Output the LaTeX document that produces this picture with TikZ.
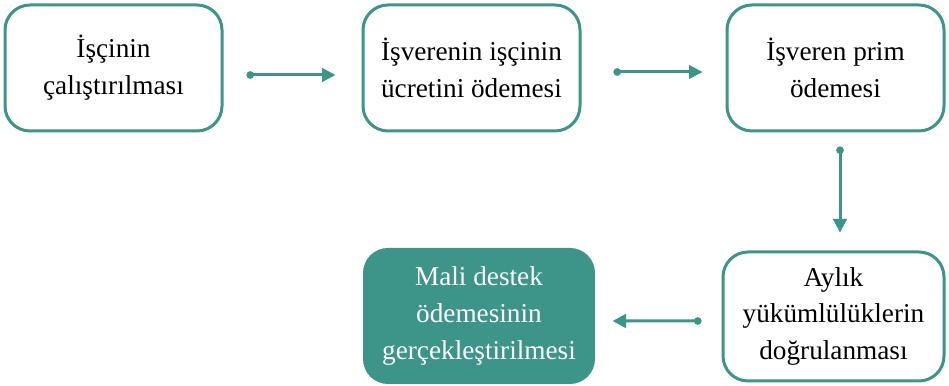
\documentclass[tikz,border=0pt]{standalone}
\usepackage{fontspec}
\setmainfont{Liberation Serif}
\usetikzlibrary{arrows.meta}
\definecolor{flowteal}{RGB}{61,148,137}

\begin{document}
\begin{tikzpicture}[
		stepbox/.style={draw=flowteal, line width=0.06cm, rounded corners=0.5cm, fill=white,
			minimum width=4.34cm, minimum height=2.52cm, inner sep=0pt, align=center,
			font=\fontsize{15.5}{21}\selectfont},
		endbox/.style={stepbox, draw=none, fill=flowteal, text=white},
		flow/.style={draw=flowteal, line width=0.06cm, {Circle[length=0.15cm,width=0.15cm]}-{Triangle[length=0.27cm,width=0.27cm]}}
	]
		%%%%% START %%%%%
		
		\useasboundingbox (0, 0) rectangle (18.98, 7.72);
		
		\node[stepbox] (calisma) at (2.27, 6.36) {İşçinin\\çalıştırılması};
		\node[stepbox] (ucret) at (9.43, 6.36) {İşverenin işçinin\\ücretini ödemesi};
		\node[stepbox] (prim) at (16.71, 6.36) {İşveren prim\\ödemesi};
		
		\node[stepbox, minimum width=4.42cm, minimum height=2.58cm] (dogrulama) at (16.67, 1.39) {Aylık\\yükümlülüklerin\\doğrulanması};
		\node[endbox, minimum width=4.64cm, minimum height=2.72cm] (destek) at (9.58, 1.40) {Mali destek\\ödemesinin\\gerçekleştirilmesi};
		
		\draw[flow, shorten <=0.46cm, shorten >=0.52cm] ([yshift=-0.14cm]calisma.east) -- ([yshift=-0.14cm]ucret.west);
		\draw[flow, shorten <=0.64cm, shorten >=0.46cm] ([yshift=-0.08cm]ucret.east) -- ([yshift=-0.08cm]prim.west);
		\draw[flow, shorten <=0.28cm, shorten >=0.36cm] ([xshift=0.09cm]prim.south) -- ([xshift=0.13cm]dogrulama.north);
		\draw[flow, shorten <=0.40cm, shorten >=0.32cm] ([yshift=-0.09cm]dogrulama.west) -- ([yshift=-0.10cm]destek.east);
		
		%%%%% END %%%%%
	\end{tikzpicture}
\end{document}
